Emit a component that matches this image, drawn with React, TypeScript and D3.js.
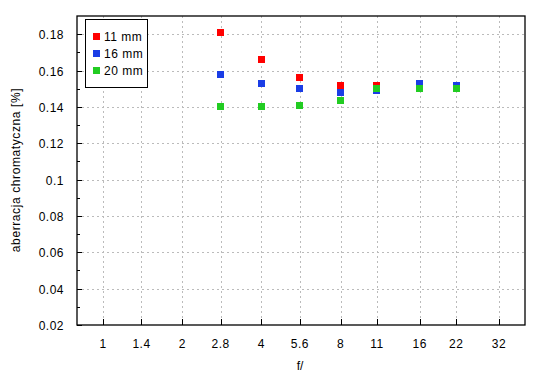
import React from "react";
import * as d3 from "d3";

const fStops = [1, 1.4, 2, 2.8, 4, 5.6, 8, 11, 16, 22, 32];
const measuredStops = [2.8, 4, 5.6, 8, 11, 16, 22];
const yTicks = [0.02, 0.04, 0.06, 0.08, 0.1, 0.12, 0.14, 0.16, 0.18];
const yMinorTicks = [0.03, 0.05, 0.07, 0.09, 0.11, 0.13, 0.15, 0.17];
const seriesNames = ["11 mm", "16 mm", "20 mm"];
const seriesColors = ["#ff0000", "#1a3de6", "#22cc22"];
const values11 = [0.181, 0.166, 0.156, 0.152, 0.152, NaN, NaN];
const values16 = [0.158, 0.153, 0.150, 0.148, 0.149, 0.153, 0.152];
const values20 = [0.140, 0.140, 0.141, 0.1435, 0.150, 0.150, 0.150];
const allSeries = [values11, values16, values20];

const W = 550, H = 380;
const left = 77, right = 525, top = 16, bottom = 325;
const font = "'Liberation Sans', Arial, sans-serif";

export default function App() {
  const x = d3.scaleLog().domain([0.796, 40.2]).range([left, right]);
  const y = d3.scaleLinear().domain([0.02, 0.19]).range([bottom, top]);
  const ms = 7;
  return (
    <svg width={W} height={H} style={{ position: "absolute", left: 0, top: 0 }}>
      <rect x={0} y={0} width={W} height={H} fill="#fff" />
      {/* grid */}
      {fStops.map((f) => (
        <line key={"gx" + f} x1={Math.round(x(f)) + 0.5} x2={Math.round(x(f)) + 0.5} y1={top} y2={bottom}
          stroke="#bbbbbb" strokeDasharray="2,3" strokeWidth={1} />
      ))}
      {yTicks.slice(1).map((v) => (
        <line key={"gy" + v} x1={left} x2={right} y1={Math.round(y(v)) + 0.5} y2={Math.round(y(v)) + 0.5}
          stroke="#bbbbbb" strokeDasharray="2,3" strokeWidth={1} />
      ))}
      {/* frame */}
      <rect x={left} y={top} width={right - left} height={bottom - top} fill="none" stroke="#000" strokeWidth={1.3} />
      {/* y ticks */}
      {yTicks.map((v) => (
        <g key={"yt" + v}>
          <line x1={left} x2={left + 5} y1={Math.round(y(v)) + 0.5} y2={Math.round(y(v)) + 0.5} stroke="#000" />
          <text x={64} y={y(v) + 5} textAnchor="end" fontFamily={font} fontSize={12} letterSpacing={0.5} fill="#000">
            {d3.format("")(+v.toFixed(2))}
          </text>
        </g>
      ))}
      {yMinorTicks.map((v) => (
        <line key={"ym" + v} x1={left} x2={left + 3} y1={Math.round(y(v)) + 0.5} y2={Math.round(y(v)) + 0.5} stroke="#000" />
      ))}
      {/* x ticks */}
      {fStops.map((f) => (
        <g key={"xt" + f}>
          <line x1={Math.round(x(f)) + 0.5} x2={Math.round(x(f)) + 0.5} y1={bottom} y2={bottom - 6} stroke="#000" />
          <text x={x(f)} y={348} textAnchor="middle" fontFamily={font} fontSize={12} letterSpacing={0.5} fill="#000">
            {String(f)}
          </text>
        </g>
      ))}
      {/* data */}
      {allSeries.map((vals, si) =>
        vals.map((v, i) =>
          isNaN(v) ? null : (
            <rect key={"p" + si + "-" + i} x={Math.round(x(measuredStops[i]) - ms / 2)} y={Math.round(y(v) - ms / 2)}
              width={ms} height={ms} fill={seriesColors[si]} />
          )
        )
      )}
      {/* legend */}
      <rect x={85.5} y={19.5} width={62} height={68} fill="#fff" stroke="#000" strokeWidth={1} />
      {seriesNames.map((n, i) => (
        <g key={"lg" + n}>
          <rect x={93} y={33 + i * 17} width={7} height={7} fill={seriesColors[i]} />
          <text x={104} y={41 + i * 17} fontFamily={font} fontSize={12} letterSpacing={0.5} fill="#000">{n}</text>
        </g>
      ))}
      {/* axis titles */}
      <text x={300} y={370} textAnchor="middle" fontFamily={font} fontSize={12} fill="#000">f/</text>
      <text transform={`translate(19.5,170) rotate(-90)`} textAnchor="middle" fontFamily={font}
        fontSize={12} letterSpacing={0.6} fill="#000">aberracja chromatyczna [%]</text>
    </svg>
  );
}
